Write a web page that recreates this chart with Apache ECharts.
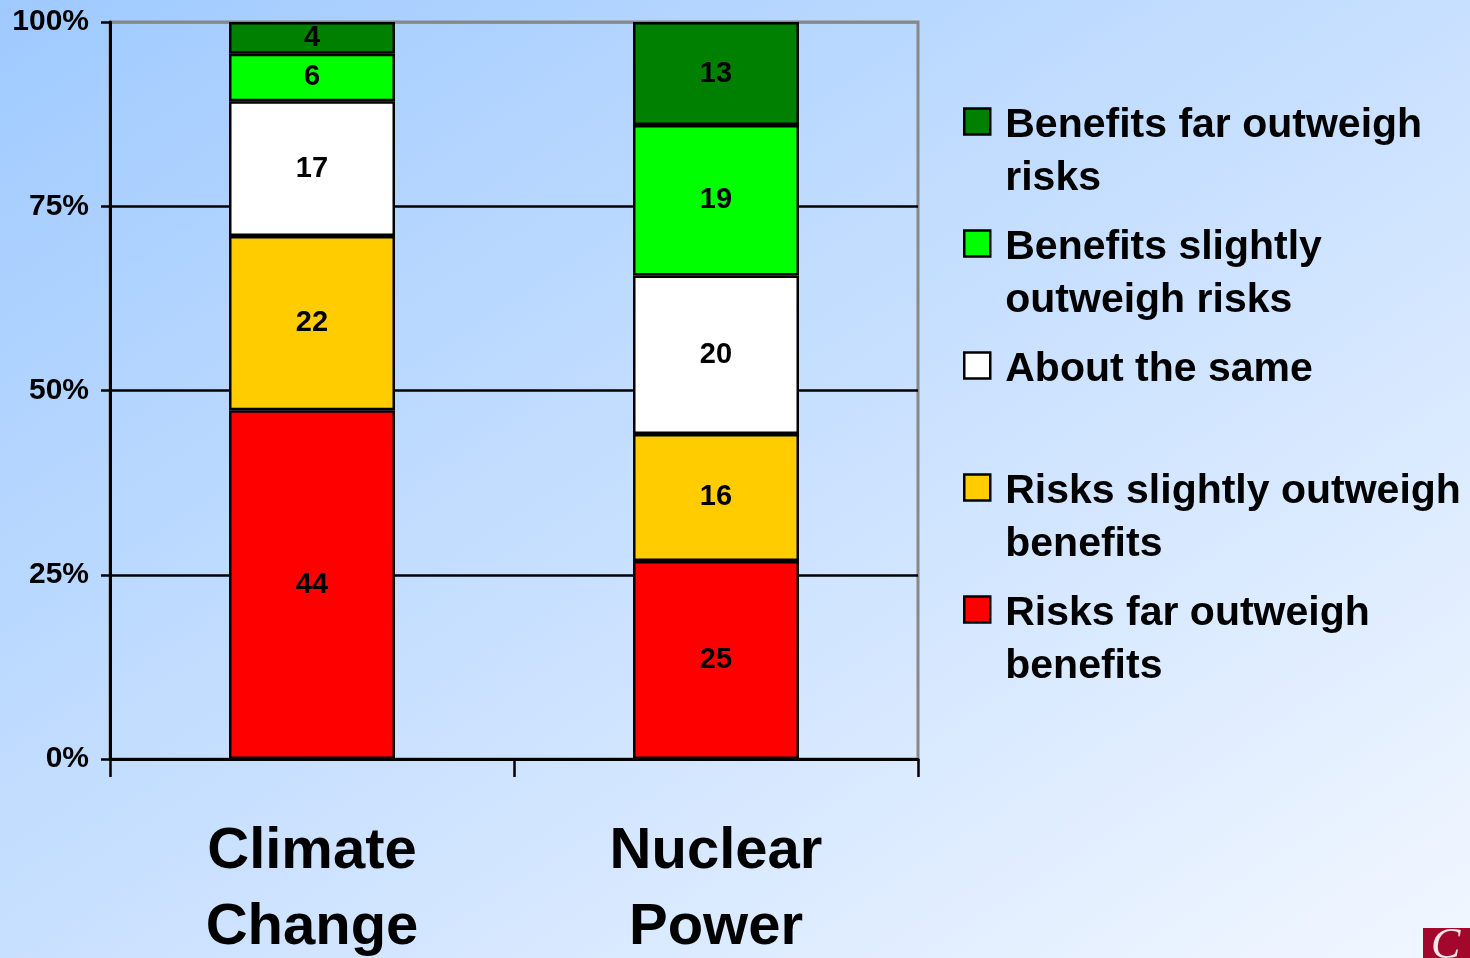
<!DOCTYPE html>
<html>
<head>
<meta charset="utf-8">
<script src="https://cdn.jsdelivr.net/npm/echarts@6/dist/echarts.min.js"></script>
<style>
  html, body { margin: 0; padding: 0; }
  #chart {
    width: 1470px;
    height: 958px;
    background: linear-gradient(to bottom right, #9fcaff 0%, #c8e0ff 50%, #f2f7ff 100%);
  }
</style>
</head>
<body>
<div id="chart"></div>
<script>
// Survey responses (counts per answer) for each topic
const categories = ['Climate\nChange', 'Nuclear\nPower'];
const riskFar = [44, 25];
const riskSlight = [22, 16];
const aboutSame = [17, 20];
const benefitSlight = [6, 19];
const benefitFar = [4, 13];
const yTicks = [0, 25, 50, 75, 100];

const seriesNames = [
  'Risks far outweigh benefits',
  'Risks slightly outweigh benefits',
  'About the same',
  'Benefits slightly outweigh risks',
  'Benefits far outweigh risks'
];
const seriesColors = ['#ff0000', '#ffcc00', '#ffffff', '#00ff00', '#008000'];
const seriesValues = [riskFar, riskSlight, aboutSame, benefitSlight, benefitFar];

// legend text broken into two display lines
const legendLines = {
  'Benefits far outweigh risks': ['Benefits far outweigh', 'risks'],
  'Benefits slightly outweigh risks': ['Benefits slightly', 'outweigh risks'],
  'About the same': ['About the same', ' '],
  'Risks slightly outweigh benefits': ['Risks slightly outweigh', 'benefits'],
  'Risks far outweigh benefits': ['Risks far outweigh', 'benefits']
};

const FONT = '"Liberation Sans", Arial, Helvetica, sans-serif';

// each column is shown as a share of its total responses
const totals = categories.map((_, i) => seriesValues.reduce((s, arr) => s + arr[i], 0));

const series = seriesNames.map((name, k) => ({
  name: name,
  type: 'bar',
  stack: 'all',
  barWidth: 166,
  data: seriesValues[k].map((v, i) => ({ value: v / totals[i] * 100, raw: v })),
  itemStyle: { color: seriesColors[k], borderColor: '#000', borderWidth: 2.5 },
  label: {
    show: true,
    position: 'inside',
    color: '#000',
    fontFamily: FONT,
    fontWeight: 'bold',
    fontSize: 29,
    formatter: p => String(p.data.raw)
  },
  emphasis: { disabled: true }
}));

const legendTextStyle = {
  color: '#000',
  fontFamily: FONT,
  fontWeight: 'bold',
  fontSize: 41,
  lineHeight: 53,
  padding: [0, 0, 0, 10]
};

const chart = echarts.init(document.getElementById('chart'), null, { renderer: 'canvas' });
chart.setOption({
  backgroundColor: 'transparent',
  animation: false,
  grid: {
    left: 110, top: 22, right: 552, bottom: 199,
    outerBoundsMode: 'none',
    containLabel: false,
    show: true, borderColor: '#888', borderWidth: 3, backgroundColor: 'transparent'
  },
  legend: {
    orient: 'vertical',
    left: 963,
    top: 38,
    padding: 0,
    itemGap: -45,
    itemWidth: 26,
    itemHeight: 26,
    icon: 'rect',
    selectedMode: false,
    data: seriesNames.slice().reverse(),
    itemStyle: { borderColor: '#000', borderWidth: 2.5 },
    textStyle: Object.assign({}, legendTextStyle, {
      rich: {
        // spacer line above the text keeps the first line level with the swatch
        s: { fontSize: 41, lineHeight: 61, fontFamily: FONT },
        a: { fontSize: 41, lineHeight: 53, fontFamily: FONT, fontWeight: 'bold', color: '#000' }
      }
    }),
    formatter: name => '{s| }\n' + legendLines[name].map(t => '{a|' + t + '}').join('\n')
  },
  xAxis: {
    type: 'category',
    data: categories,
    boundaryGap: true,
    axisLine: { lineStyle: { color: '#000', width: 3 } },
    axisTick: { show: true, length: 18, lineStyle: { color: '#000', width: 2.5 } },
    axisLabel: {
      color: '#000',
      fontFamily: FONT,
      fontWeight: 'bold',
      fontSize: 58,
      lineHeight: 76,
      margin: 55,
      interval: 0
    },
    splitLine: { show: false }
  },
  yAxis: {
    type: 'value',
    min: yTicks[0],
    max: yTicks[yTicks.length - 1],
    interval: yTicks[1] - yTicks[0],
    axisLine: { show: true, lineStyle: { color: '#000', width: 3 } },
    axisTick: { show: true, length: 9, lineStyle: { color: '#000', width: 2.5 } },
    axisLabel: {
      color: '#000',
      fontFamily: FONT,
      fontWeight: 'bold',
      fontSize: 30,
      margin: 21,
      formatter: '{value}%'
    },
    splitLine: {
      show: true,
      lineStyle: { color: ['#000', '#000', '#000', '#000', '#888'], width: 2.5 }
    }
  },
  graphic: [
    {
      type: 'rect',
      left: 1423, top: 928,
      shape: { width: 47, height: 30 },
      style: { fill: '#a3082c' },
      silent: true
    },
    {
      type: 'text',
      left: 1431, top: 924,
      style: { text: 'C', fill: '#f4e6ea', font: 'italic 44px "Liberation Serif", serif' },
      silent: true
    }
  ],
  series: series
});
</script>
</body>
</html>
